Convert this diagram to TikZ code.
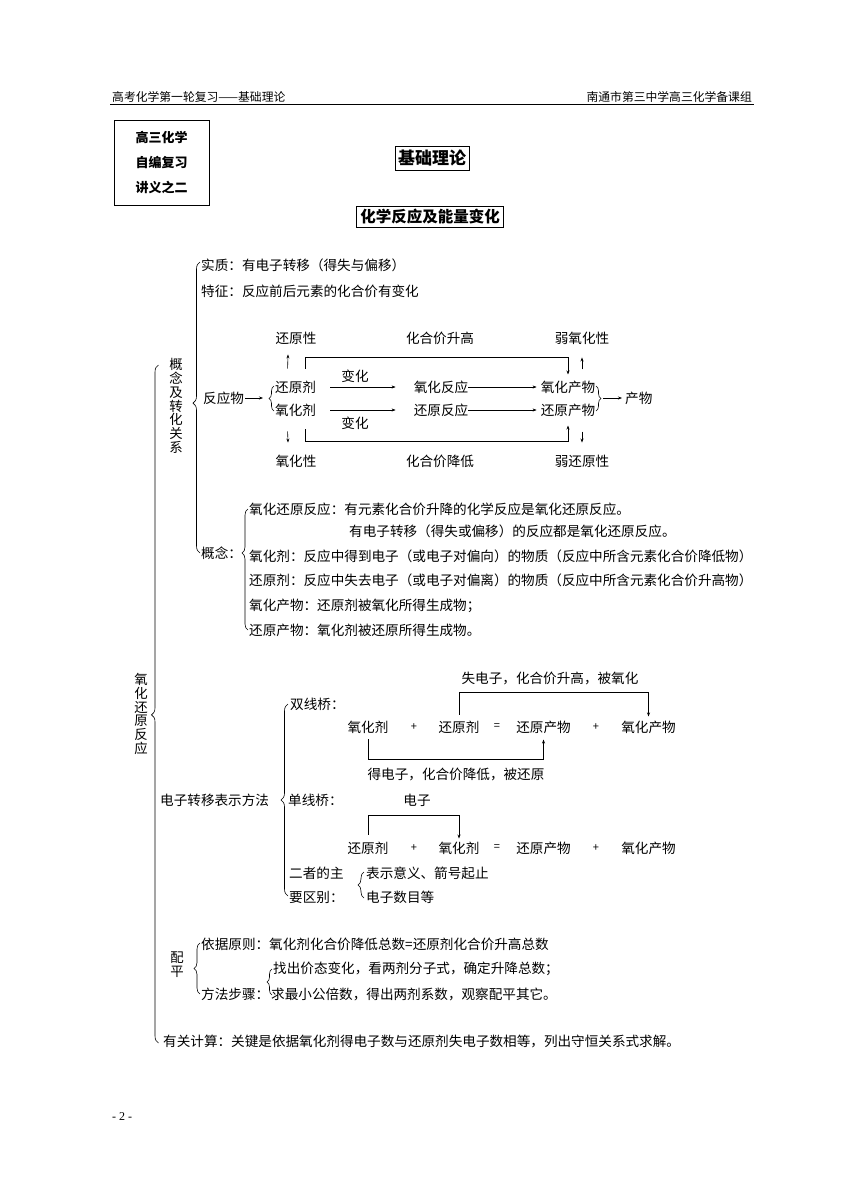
\documentclass[tikz,border=0pt]{standalone}
\usepackage{fontspec}
\setmainfont{Noto Sans CJK SC}
\newfontfamily\pagefont{Liberation Serif}
\usetikzlibrary{arrows.meta,decorations.pathreplacing,calc}
\tikzset{
  txt/.style={anchor=west,inner sep=0pt,font=\fontsize{13.6}{16}\selectfont},
  ctxt/.style={inner sep=0pt,font=\fontsize{13.6}{16}\selectfont},
  vtxt/.style={inner sep=0pt,align=center,font=\fontsize{13.4}{13.8}\selectfont},
  optxt/.style={inner sep=0pt,font=\fontsize{11}{12}\selectfont},
  hdr/.style={inner sep=0pt,font=\fontsize{11.8}{13}\selectfont},
  arr/.style={-{Stealth[length=4pt,width=3pt]},line width=0.6pt},
  ln/.style={line width=0.6pt},
  brc/.style={decorate,decoration={brace,amplitude=#1},line width=0.6pt},
  brc/.default=6pt
}
\begin{document}
\begin{tikzpicture}[x=1pt,y=-1pt]
\useasboundingbox (0,0) rectangle (860,1191);
% header
\node[hdr,anchor=west] (h1) at (112,97) {高考化学第一轮复习——基础理论};
\node[hdr,anchor=east] (h2) at (752,97) {南通市第三中学高三化学备课组};
\draw[line width=0.9pt] (110,104) -- (754,104);
% title boxes
\node[draw,line width=0.6pt,minimum width=95pt,minimum height=85pt,align=center,inner sep=0pt,
      font=\bfseries\fontsize{13}{25}\selectfont] (box) at (161.5,162.5) {高三化学\\自编复习\\讲义之二};
\node[draw,line width=0.6pt,inner xsep=3pt,inner ysep=4pt,font=\bfseries\fontsize{17}{19}\selectfont] (t1) at (432,158) {基础理论};
\node[draw,line width=0.6pt,inner xsep=4pt,inner ysep=3pt,font=\bfseries\fontsize{15.5}{17}\selectfont] (t2) at (430,217) {化学反应及能量变化};

% main brace
\node[vtxt] (ox) at (141,714) {氧\\化\\还\\原\\反\\应};
\draw[brc=7pt,decoration={aspect=0.484}] (158.5,1043) -- (158.5,365);
% concept & transform
\node[vtxt] (gz) at (176,406) {概\\念\\及\\转\\化\\关\\系};
\draw[brc=7pt,decoration={aspect=0.515}] (200,553) -- (200,262);
\node[txt] (shizhi) at (201,265) {实质：有电子转移（得失与偏移）};
\node[txt] (tezheng) at (201,291) {特征：反应前后元素的化合价有变化};

% reaction scheme
\node[ctxt] (hyx) at (296,338) {还原性};
\node[ctxt] (hjsg) at (440,338) {化合价升高};
\node[ctxt] (ryhx) at (582,338) {弱氧化性};
\node[txt] (fyw) at (203,398) {反应物};
\node[txt] (hyj) at (275,387) {还原剂};
\node[txt] (yhj) at (275,410) {氧化剂};
\node[ctxt] (bh1) at (355,376) {变化};
\node[ctxt] (bh2) at (355,423) {变化};
\node[ctxt] (yhfy) at (441,387) {氧化反应};
\node[ctxt] (hyfy) at (441,410) {还原反应};
\node[ctxt] (yhcw) at (568,387) {氧化产物};
\node[ctxt] (hycw) at (568,410) {还原产物};
\node[txt] (cw) at (625,398) {产物};
\node[ctxt] (yhx) at (296,461) {氧化性};
\node[ctxt] (hjjd) at (440,461) {化合价降低};
\node[ctxt] (rhyx) at (582,461) {弱还原性};
\coordinate (b1) at (268,398);
\coordinate (b2) at (601,398);
\draw[arr] ([xshift=1pt]fyw.east) -- ([xshift=-5pt]b1);
\draw[brc=5pt] (274,411) -- (274,386);
\draw[brc=5pt] (596,386) -- (596,411);
\draw[arr] ([xshift=2pt]b2) -- ([xshift=-3pt]cw.west);
\draw[arr] ([xshift=14pt]hyj.east) -- ([xshift=-18pt]yhfy.west);
\draw[arr] ([xshift=14pt]yhj.east) -- ([xshift=-18pt]hyfy.west);
\draw[arr] (yhfy.east) -- ([xshift=-4pt]yhcw.west);
\draw[arr] (hyfy.east) -- ([xshift=-4pt]hycw.west);
\draw[arr] ([xshift=-8pt,yshift=12pt]hyj.north) -- ([xshift=-8pt,yshift=-10pt]hyx.south);
\draw[arr] ([xshift=14pt,yshift=11pt]yhcw.north) -- ([yshift=-13pt]ryhx.south);
\draw[arr] ([xshift=-8pt,yshift=-15pt]yhj.south) -- ([xshift=-8pt,yshift=12pt]yhx.north);
\draw[arr] ([xshift=14pt,yshift=-15pt]hycw.south) -- ([yshift=12pt]rhyx.north);
\draw[arr] ([xshift=10pt,yshift=12pt]hyj.north) -- ++(0,-11) -| ([yshift=6pt]yhcw.north);
\draw[arr] ([xshift=10pt,yshift=-13pt]yhj.south) -- ++(0,12) -| ([yshift=-9pt]hycw.south);

% concepts
\node[txt] (gn) at (201,553) {概念：};
\draw[brc=6pt,decoration={aspect=0.636}] (248,630) -- (248,509);
\node[txt] (d1) at (249,509) {氧化还原反应：有元素化合价升降的化学反应是氧化还原反应。};
\node[txt] (d2) at (349,531) {有电子转移（得失或偏移）的反应都是氧化还原反应。};
\node[txt] (d3) at (249,556) {氧化剂：反应中得到电子（或电子对偏向）的物质（反应中所含元素化合价降低物）};
\node[txt] (d4) at (249,580) {还原剂：反应中失去电子（或电子对偏离）的物质（反应中所含元素化合价升高物）};
\node[txt] (d5) at (249,606) {氧化产物：还原剂被氧化所得生成物；};
\node[txt] (d6) at (249,630) {还原产物：氧化剂被还原所得生成物。};

% electron transfer
\node[txt] (dzzy) at (160,800) {电子转移表示方法};
\draw[brc=7pt] (288,896) -- (288,704);
\node[txt] (sxq) at (290,704) {双线桥：};
\node[txt] (dxq) at (288,800) {单线桥：};
\node[txt] (ez1) at (289,873) {二者的主};
\node[txt] (ez2) at (289,897) {要区别：};
\draw[brc=6pt] (364,898) -- (364,872);
\node[txt] (bs) at (366,873) {表示意义、箭号起止};
\node[txt] (dzs) at (366,897) {电子数目等};
% double bridge
\node[ctxt] (e1a) at (368,727) {氧化剂};
\node[optxt] (e1p) at (414,727) {+};
\node[ctxt] (e1b) at (459,727) {还原剂};
\node[optxt] (e1q) at (497,727) {=};
\node[ctxt] (e1c) at (543.5,727) {还原产物};
\node[optxt] (e1r) at (596,727) {+};
\node[ctxt] (e1d) at (648.5,727) {氧化产物};
\node[ctxt] (sdz) at (550,678) {失电子，化合价升高，被氧化};
\node[ctxt] (ddz) at (456,774) {得电子，化合价降低，被还原};
\draw[arr] ([yshift=6pt]e1b.north) -- ++(0,-22) -| ([yshift=4pt]e1d.north);
\draw[arr] ([yshift=-6pt]e1a.south) -- ++(0,20) -| ([yshift=-6pt]e1c.south);
% single bridge
\node[ctxt] (e2a) at (368,848) {还原剂};
\node[optxt] (e2p) at (414,848) {+};
\node[ctxt] (e2b) at (459,848) {氧化剂};
\node[optxt] (e2q) at (497,848) {=};
\node[ctxt] (e2c) at (543.5,848) {还原产物};
\node[optxt] (e2r) at (596,848) {+};
\node[ctxt] (e2d) at (648.5,848) {氧化产物};
\node[ctxt] (dz) at (417,800) {电子};
\draw[arr] ([yshift=7pt]e2a.north) -- ++(0,-19) -| ([yshift=3pt]e2b.north);

% balancing
\node[vtxt] (pp) at (177,965) {配\\平};
\draw[brc=6pt] (200,994) -- (200,943);
\node[txt] (yj) at (201,944) {依据原则：氧化剂化合价降低总数=还原剂化合价升高总数};
\node[txt] (ff) at (201,994) {方法步骤：};
\draw[brc=5pt] (272,995) -- (272,969);
\node[txt] (zc) at (273,969) {找出价态变化，看两剂分子式，确定升降总数；};
\node[txt] (qz) at (271,994) {求最小公倍数，得出两剂系数，观察配平其它。};
% calculation
\node[txt] (js) at (163,1041) {有关计算：关键是依据氧化剂得电子数与还原剂失电子数相等，列出守恒关系式求解。};
% page number
\node[inner sep=0pt,anchor=west,font=\pagefont\fontsize{12}{14}\selectfont] (pg) at (112,1117) {- 2 -};
\end{tikzpicture}
\end{document}
